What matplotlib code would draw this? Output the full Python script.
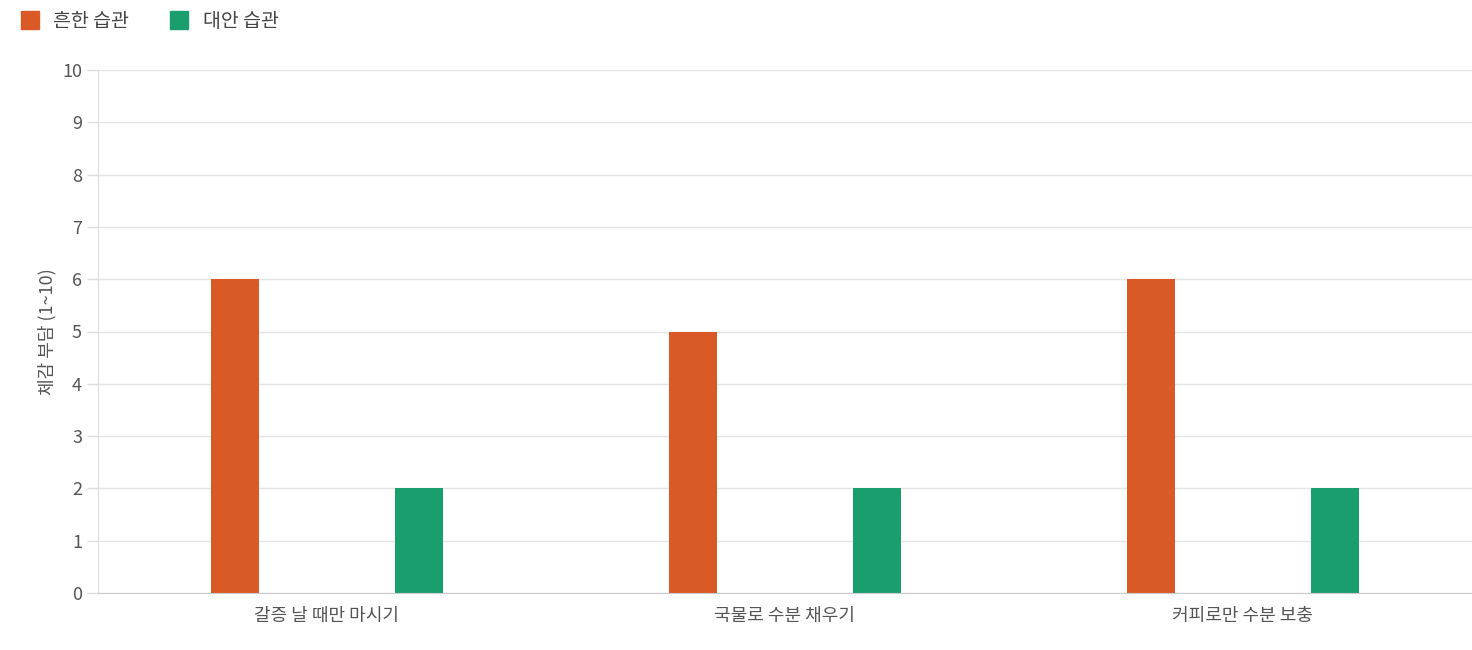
import numpy as np
import matplotlib.pyplot as plt
from matplotlib.patches import FancyBboxPatch
from matplotlib.lines import Line2D

plt.rcParams['font.family'] = ['Noto Sans CJK KR', 'DejaVu Sans']

categories = ['갈증 날 때만 마시기', '국물로 수분 채우기', '커피로만 수분 보충']
common = [6, 5, 6]
alternative = [2, 2, 2]
series_names = ['흔한 습관', '대안 습관']
colors = ['#D95A26', '#1B9E6E']

fig = plt.figure(figsize=(14.72, 6.5), dpi=100)
ax = fig.add_axes([98 / 1472, 57 / 650, 1374 / 1472, 523 / 650])

x = np.arange(len(categories))
ax.bar(x - 0.2, common, width=0.105, color=colors[0])
ax.bar(x + 0.2, alternative, width=0.105, color=colors[1])

ax.set_xlim(-0.5, 2.5)
ax.set_ylim(0, 10)
ax.set_yticks(range(0, 11))
ax.set_xticks(x)
ax.set_xticklabels(categories)
ax.tick_params(axis='both', labelsize=13, colors='#666666', length=8, width=1)
ax.tick_params(axis='x', length=0, pad=10)
for lbl in ax.get_xticklabels() + ax.get_yticklabels():
    lbl.set_color('#555555')
ax.grid(axis='y', color='#e5e5e5', linewidth=1)
ax.set_axisbelow(True)
for s in ['top', 'right']:
    ax.spines[s].set_visible(False)
ax.spines['left'].set_color('#dddddd')
ax.spines['bottom'].set_color('#cccccc')
ax.tick_params(axis='y', color='#dddddd')
ax.set_ylabel('체감 부담 (1~10)', fontsize=13, color='#555555')

handles = [Line2D([], [], marker='s', linestyle='', markersize=13, color=c) for c in colors]
fig.legend(handles, series_names, loc='upper left', bbox_to_anchor=(-0.005, 1.01), ncol=2,
           frameon=False, fontsize=14, handletextpad=0.2, columnspacing=1.6,
           labelcolor='#444444')

fig.savefig('out.png', dpi=100)
